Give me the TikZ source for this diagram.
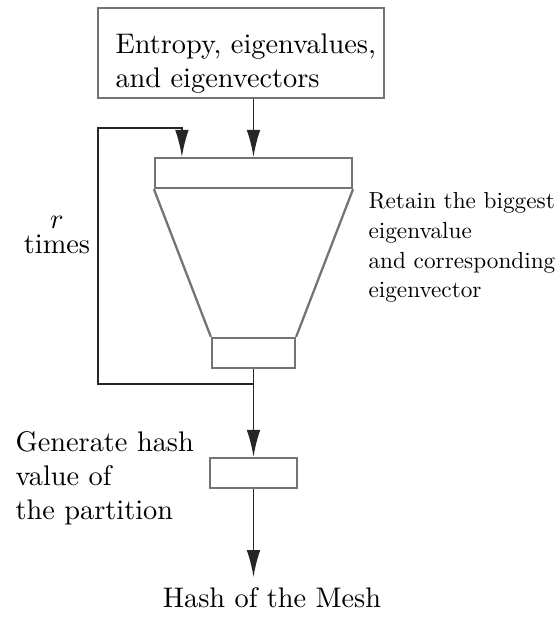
\documentclass[tikz,border=0pt]{standalone}
\usepackage{tikz}
\usetikzlibrary{calc}
\usetikzlibrary{arrows.meta}

\tikzset{
  blk/.style={draw=black!55, line width=0.8pt, inner sep=0pt},
  flow/.style={-{Latex[length=9.5pt,width=4.8pt]}, line width=0.6pt, black!85},
}

\begin{document}
\begin{tikzpicture}[x=0.353pt,y=-0.353pt]
\useasboundingbox (0,0) rectangle (558,617);

% input box, text set a bit low in it
\node[blk, minimum width=101pt, minimum height=31.8pt] (src) at (241,53) {};
\node[align=left, anchor=north west, inner sep=0pt] (srctxt) at (115,33) {Entropy, eigenvalues,\\and eigenvectors};

% funnel: top bar, bottom bar and the slanted sides
\node[blk, minimum width=69.5pt, minimum height=10.6pt] (ftop) at (253.5,173) {};
\node[blk, minimum width=29.3pt, minimum height=10.6pt] (fbot) at (253.5,353) {};
\draw[draw=black!55, line width=0.8pt] (ftop.south west) -- (fbot.north west) (ftop.south east) -- (fbot.north east);

\node[blk, minimum width=30.7pt, minimum height=10.6pt] (hash) at (253.5,473) {};
\node[anchor=base] (mesh) at (272,607) {Hash of the Mesh};

% labels
\node[align=center, inner sep=0pt] (rtimes) at (57,235) {$r$\\[-3pt]times};
\node[anchor=north west, inner sep=0pt] (keep) at (368,187) {\scalebox{0.82}{\renewcommand\arraystretch{1.07}%
  \begin{tabular}{@{}l@{}}Retain the biggest\\eigenvalue\\and corresponding\\eigenvector\end{tabular}}};
\node[align=left, anchor=north west, inner sep=0pt] (gen) at (15,431) {Generate hash\\value of\\the partition};

% arrows
\coordinate (split) at ($(fbot.south)+(0,15)$);
\coordinate (back) at (98,128);
\draw[flow] (src.south -| ftop.north) -- (ftop.north);
\draw[line width=0.6pt, black!85] (fbot.south) -- (split);
\draw[flow] (split) -| (back) -| ($(ftop.north west)+(28,0)$);
\draw[flow] (split) -- (hash.north);
\draw[flow] (hash.south) -- (hash.south |- mesh.north);
\end{tikzpicture}
\end{document}
